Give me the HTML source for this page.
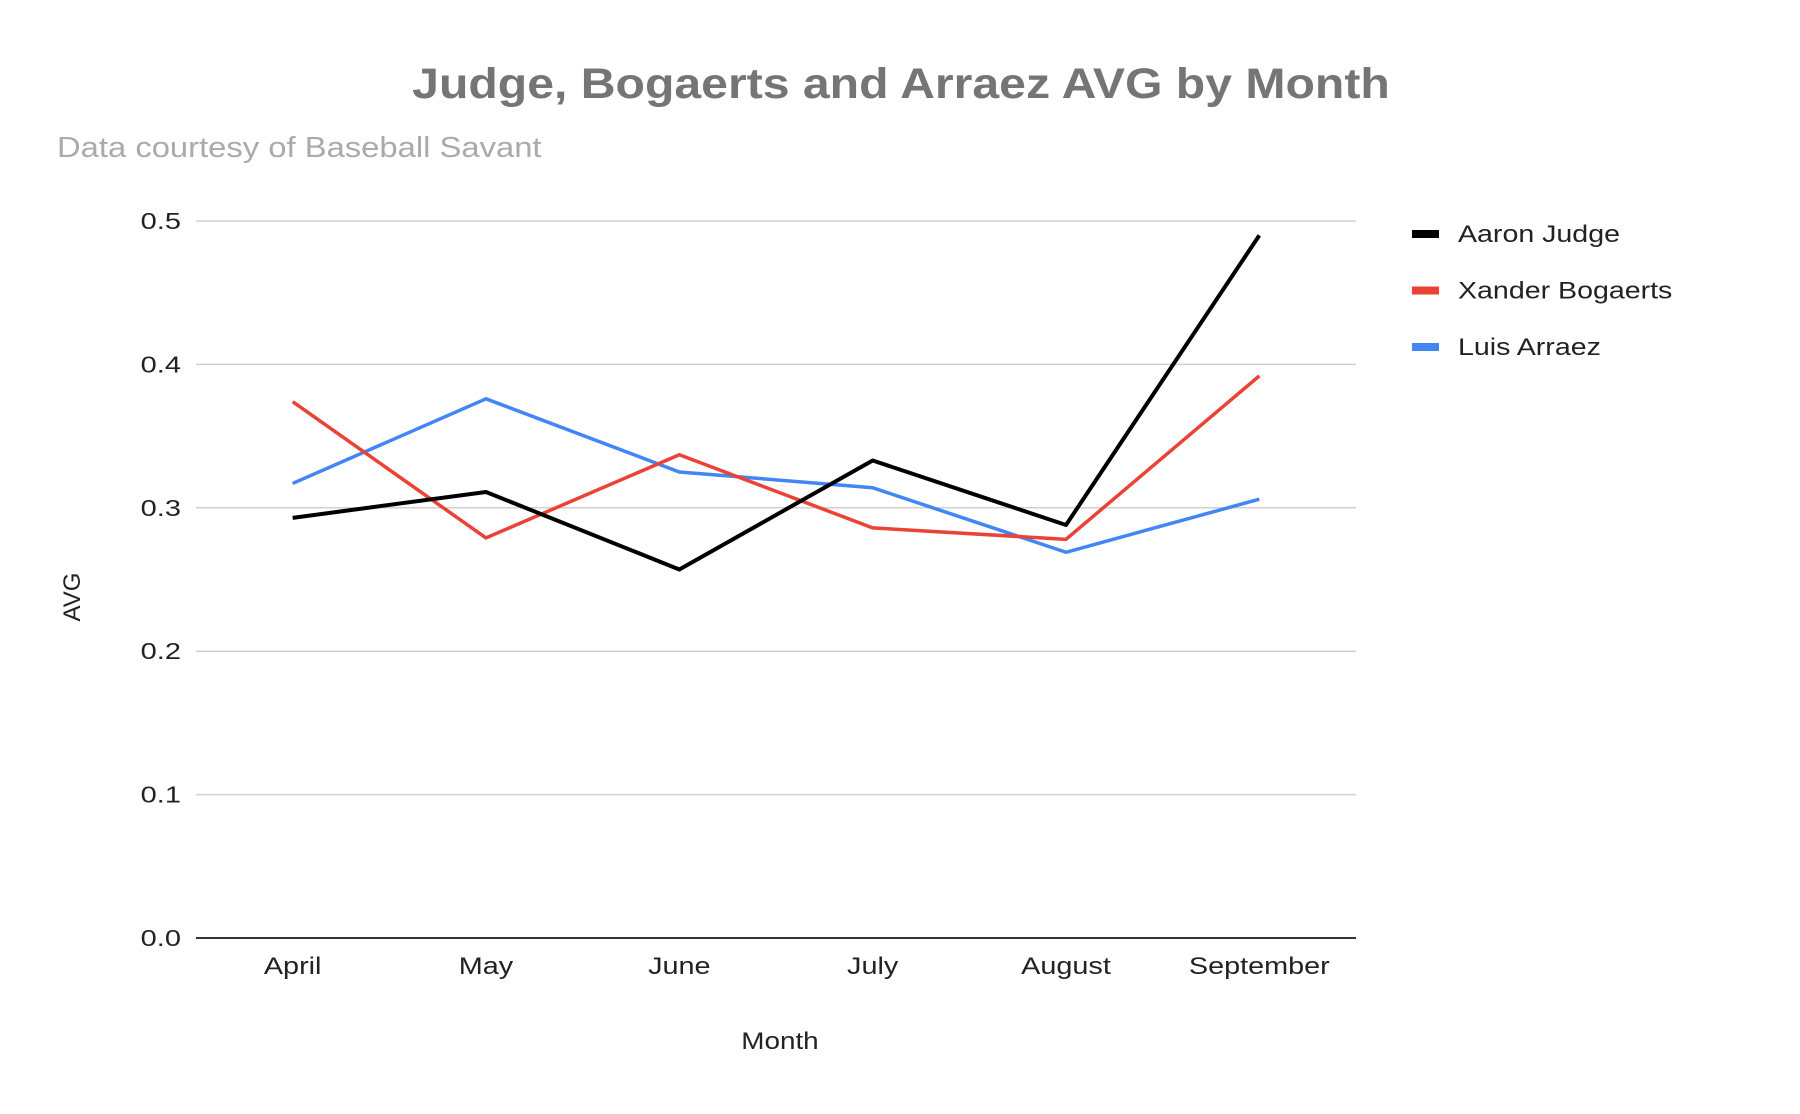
<!DOCTYPE html>
<html><head><meta charset="utf-8"><style>
body{margin:0;background:#fff;}
svg{display:block;font-family:"Liberation Sans",Arial,sans-serif;}
</style></head><body>
<svg id="chart" width="1800" height="1114" viewBox="0 0 1800 1114">
<text class="st" data-f="1.12" x="901" y="98" text-anchor="middle" font-size="43" font-weight="bold" fill="#757575">Judge, Bogaerts and Arraez AVG by Month</text>
<text class="st" data-f="1.13" x="57" y="157" font-size="29" fill="#aaaaaa">Data courtesy of Baseball Savant</text>
<g id="grid"></g>
<g id="series"></g>
<g id="legend"></g>
<text class="st" data-f="1.16" x="780" y="1049" text-anchor="middle" font-size="24" fill="#222">Month</text>
<text transform="translate(80,597) rotate(-90)" text-anchor="middle" font-size="24" fill="#222">AVG</text>
</svg>
<script>
const months = ["April","May","June","July","August","September"];
const judge = [0.293,0.311,0.257,0.333,0.288,0.490];
const bogaerts = [0.374,0.279,0.337,0.286,0.278,0.392];
const arraez = [0.317,0.376,0.325,0.314,0.269,0.306];
const yTicks = [0,0.1,0.2,0.3,0.4,0.5];
const yTickLabels = ["0.0","0.1","0.2","0.3","0.4","0.5"];
const seriesNames = ["Aaron Judge","Xander Bogaerts","Luis Arraez"];

const NS="http://www.w3.org/2000/svg";
const L=196,R=1356,T=221,B=938;
const y=v=>B-(v/0.5)*(B-T);
const x=i=>L+(R-L)/months.length*(i+0.5);
function mk(tag,attrs,parent){const e=document.createElementNS(NS,tag);for(const k in attrs)e.setAttribute(k,attrs[k]);parent.appendChild(e);return e;}
const grid=document.getElementById('grid');
yTicks.forEach((t,i)=>{
  const ln=mk('line',{x1:L,x2:R,y1:y(t),y2:y(t),stroke:t===0?'#333':'#d0d0d0','stroke-width':t===0?2:1.5},grid);
  
  
  const tx=mk('text',{x:181,y:y(t)+8,'text-anchor':'end','font-size':23,fill:'#222',class:'st','data-f':1.26},grid);
  tx.textContent=yTickLabels[i];
  
  
});
months.forEach((m,i)=>{
  const tx=mk('text',{x:x(i),y:974,'text-anchor':'middle','font-size':24,fill:'#222',class:'st','data-f':1.2},grid);
  tx.textContent=m;
  
  
});
const colors=["#000000","#ea4335","#4285f4"];
const data=[judge,bogaerts,arraez];
const sg=document.getElementById('series');
[2,1,0].forEach(s=>{
  const p=mk('polyline',{points:data[s].map((v,i)=>x(i)+','+y(v)).join(' '),fill:'none',stroke:colors[s],'stroke-width':s===0?4:3.5,'stroke-linejoin':'round'},sg);
  
  
});
const lg=document.getElementById('legend');
seriesNames.forEach((n,s)=>{
  const yy=234+s*56.5;
  const r=mk('rect',{x:1412,y:yy-4,width:27,height:8,fill:colors[s]},lg);
  
  
  const t=mk('text',{x:1458,y:yy+8,'font-size':24,fill:'#222',class:'st','data-f':1.19},lg);
  t.textContent=n;
  
  
});
document.querySelectorAll('text.st').forEach(t=>{
  const w=t.getComputedTextLength();
  t.setAttribute('textLength',w*parseFloat(t.getAttribute('data-f')));
  t.setAttribute('lengthAdjust','spacingAndGlyphs');
});
</script>
</body></html>
